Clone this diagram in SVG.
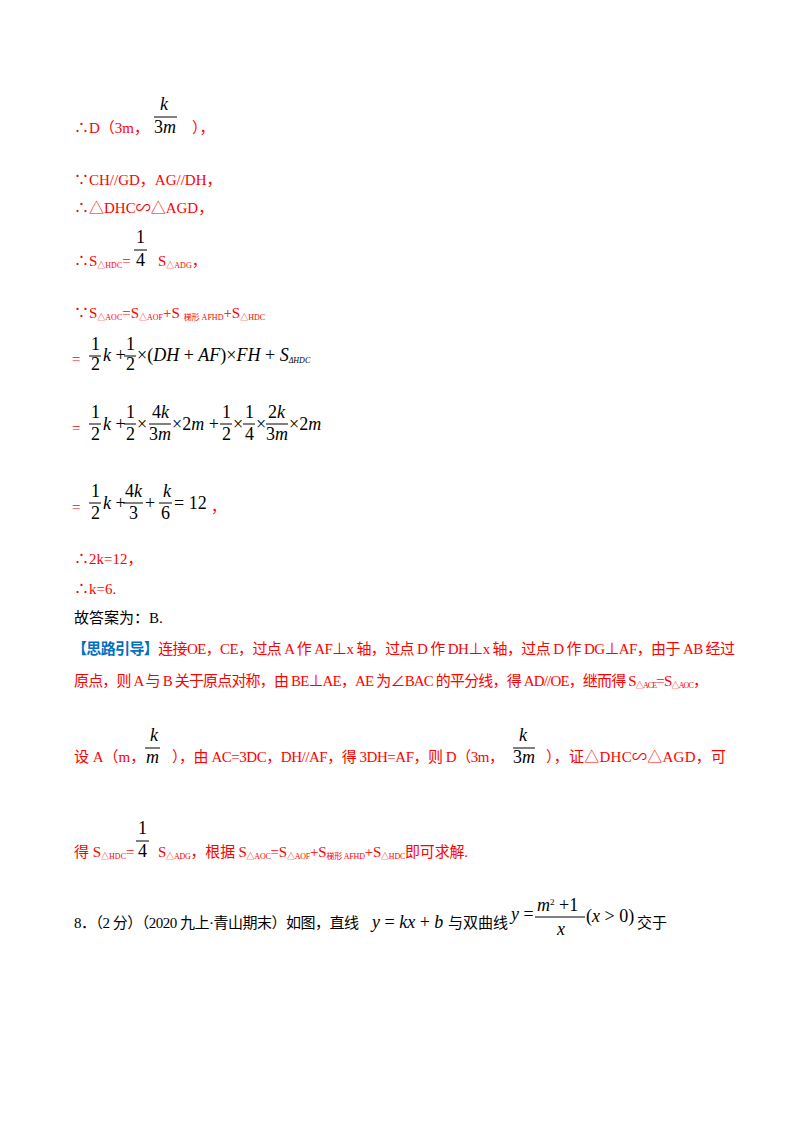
<svg xmlns="http://www.w3.org/2000/svg" width="800" height="1132" viewBox="0 0 800 1132">
<style>
.r{fill:#ff0000;font-family:"Liberation Serif","Times New Roman","Noto Sans CJK SC",serif;font-size:15px}
.b{fill:#000;font-family:"Liberation Serif","Times New Roman","Noto Sans CJK SC",serif;font-size:15px}
.bl{fill:#0070c0;font-weight:bold}
.sim{font-family:"Noto Sans CJK SC","DejaVu Sans",sans-serif}
.m{fill:#000;font-family:"Liberation Serif","Times New Roman","DejaVu Serif",serif;font-size:18px}
.i{font-style:italic}
.s{font-size:8px}
line{stroke:#000;stroke-width:1}
</style>
<rect width="800" height="1132" fill="#fff"/>
<g id="l1">
<text class="r" x="74" y="133">∴D（3m，</text>
<text class="m i" x="160" y="110">k</text><line x1="154" y1="117" x2="177" y2="117"/><text class="m" x="154" y="133">3<tspan class="i">m</tspan></text>
<text class="r" x="192" y="133">），</text>
</g>
<g id="l2"><text class="r" x="74" y="185">∵CH//GD，AG//DH，</text>
<text class="r" x="74" y="213">∴△DHC<tspan class="sim">∽</tspan>△AGD，</text></g>
<g id="l3">
<text class="r" x="74" y="266">∴S<tspan class="s" dy="2">△HDC</tspan><tspan dy="-2">=</tspan></text>
<text class="m" x="136" y="243">1</text><line x1="134" y1="250" x2="147" y2="250"/><text class="m" x="136" y="266">4</text>
<text class="r" x="158" y="266">S<tspan class="s" dy="2">△ADG</tspan><tspan dy="-2">，</tspan></text>
</g>
<g id="l4"><text class="r" x="74" y="318">∵S<tspan class="s" dy="2">△AOC</tspan><tspan dy="-2">=S</tspan><tspan class="s" dy="2">△AOF</tspan><tspan dy="-2">+S </tspan><tspan class="s" dy="2">梯形 AFHD</tspan><tspan dy="-2">+S</tspan><tspan class="s" dy="2">△HDC</tspan></text></g>
<g id="eq1">
<text class="r" x="72" y="364">=</text>
<text class="m" x="91" y="350">1</text><line x1="89" y1="356" x2="101" y2="356"/><text class="m" x="91" y="370">2</text>
<text class="m" x="103" y="361"><tspan class="i">k</tspan> +</text>
<text class="m" x="126" y="350">1</text><line x1="124" y1="356" x2="136" y2="356"/><text class="m" x="126" y="370">2</text>
<text class="m" x="137" y="361">×(<tspan class="i">DH</tspan> + <tspan class="i">AF</tspan>)×<tspan class="i">FH</tspan> + <tspan class="i">S</tspan><tspan class="i" font-size="8" dy="2">ΔHDC</tspan></text>
</g>
<g id="eq2">
<text class="r" x="72" y="433">=</text>
<text class="m" x="91" y="418">1</text><line x1="89" y1="424" x2="101" y2="424"/><text class="m" x="91" y="440">2</text>
<text class="m" x="103" y="430"><tspan class="i">k</tspan> +</text>
<text class="m" x="126" y="418">1</text><line x1="124" y1="424" x2="136" y2="424"/><text class="m" x="126" y="440">2</text>
<text class="m" x="137" y="430">×</text>
<text class="m" x="152" y="418">4<tspan class="i">k</tspan></text><line x1="149" y1="424" x2="171" y2="424"/><text class="m" x="149" y="440">3<tspan class="i">m</tspan></text>
<text class="m" x="172" y="430">×2<tspan class="i">m</tspan> +</text>
<text class="m" x="222" y="418">1</text><line x1="220" y1="424" x2="232" y2="424"/><text class="m" x="222" y="440">2</text>
<text class="m" x="233" y="430">×</text>
<text class="m" x="245" y="418">1</text><line x1="243" y1="424" x2="255" y2="424"/><text class="m" x="245" y="440">4</text>
<text class="m" x="256" y="430">×</text>
<text class="m" x="268" y="418">2<tspan class="i">k</tspan></text><line x1="266" y1="424" x2="288" y2="424"/><text class="m" x="266" y="440">3<tspan class="i">m</tspan></text>
<text class="m" x="289" y="430">×2<tspan class="i">m</tspan></text>
</g>
<g id="eq3">
<text class="r" x="72" y="512">=</text>
<text class="m" x="91" y="497">1</text><line x1="89" y1="503" x2="101" y2="503"/><text class="m" x="91" y="519">2</text>
<text class="m" x="103" y="509"><tspan class="i">k</tspan> +</text>
<text class="m" x="125" y="497">4<tspan class="i">k</tspan></text><line x1="123" y1="503" x2="143" y2="503"/><text class="m" x="129" y="519">3</text>
<text class="m" x="145" y="509">+</text>
<text class="m" x="163" y="497" font-style="italic">k</text><line x1="159" y1="503" x2="172" y2="503"/><text class="m" x="161" y="519">6</text>
<text class="m" x="174" y="509">= 12</text>
<text class="r" x="211" y="512">，</text>
</g>
<g id="l5"><text class="r" x="74" y="564">∴2k=12，</text>
<text class="r" x="74" y="594">∴k=6.</text>
<text class="b" x="74" y="623">故答案为：B.</text></g>
<g id="hint">
<text class="r" x="72" y="654" textLength="663" lengthAdjust="spacing"><tspan class="bl">【思路引导】</tspan>连接OE，CE，过点 A 作 AF⊥x 轴，过点 D 作 DH⊥x 轴，过点 D 作 DG⊥AF，由于 AB 经过</text>
<text class="r" x="74" y="686" textLength="634" lengthAdjust="spacing">原点，则 A 与 B 关于原点对称，由 BE⊥AE，AE 为∠BAC 的平分线，得 AD//OE，继而得 S<tspan class="s" dy="2">△ACE</tspan><tspan dy="-2">=S</tspan><tspan class="s" dy="2">△AOC</tspan><tspan dy="-2">，</tspan></text>
<text class="r" x="74" y="762">设 A（m，</text>
<text class="m i" x="150" y="741">k</text><line x1="145" y1="748" x2="160" y2="748"/><text class="m i" x="146" y="763">m</text>
<text class="r" x="172" y="762" textLength="332" lengthAdjust="spacing">），由 AC=3DC，DH//AF，得 3DH=AF，则 D（3m，</text>
<text class="m i" x="519" y="741">k</text><line x1="513" y1="748" x2="535" y2="748"/><text class="m" x="513" y="763">3<tspan class="i">m</tspan></text>
<text class="r" x="546" y="762" textLength="180" lengthAdjust="spacing">），证△DHC<tspan class="sim">∽</tspan>△AGD，可</text>
<text class="r" x="74" y="857">得 S<tspan class="s" dy="2">△HDC</tspan><tspan dy="-2">=</tspan></text>
<text class="m" x="138" y="834">1</text><line x1="136" y1="841" x2="149" y2="841"/><text class="m" x="138" y="857">4</text>
<text class="r" x="158" y="857" textLength="310" lengthAdjust="spacing">S<tspan class="s" dy="2">△ADG</tspan><tspan dy="-2">，根据 S</tspan><tspan class="s" dy="2">△AOC</tspan><tspan dy="-2">=S</tspan><tspan class="s" dy="2">△AOF</tspan><tspan dy="-2">+S</tspan><tspan class="s" dy="2">梯形 AFHD</tspan><tspan dy="-2">+S</tspan><tspan class="s" dy="2">△HDC</tspan><tspan dy="-2">即可求解.</tspan></text>
</g>
<g id="q8">
<text class="b" x="74" y="928" textLength="285" lengthAdjust="spacing">8．（2 分）（2020 九上·青山期末）如图，直线</text>
<text class="m" x="372" y="928"><tspan class="i">y</tspan> = <tspan class="i">kx</tspan> + <tspan class="i">b</tspan></text>
<text class="b" x="448" y="928">与双曲线</text>
<text class="m" x="511" y="920"><tspan class="i">y</tspan> =</text>
<text class="m" x="537" y="911"><tspan class="i">m</tspan><tspan font-size="9" dy="-6">2</tspan><tspan dy="6"> +1</tspan></text><line x1="535" y1="917" x2="585" y2="917"/><text class="m i" x="557" y="935">x</text>
<text class="m" x="586" y="922">(<tspan class="i">x</tspan> &gt; 0)</text>
<text class="b" x="637" y="928">交于</text>
</g>
</svg>
